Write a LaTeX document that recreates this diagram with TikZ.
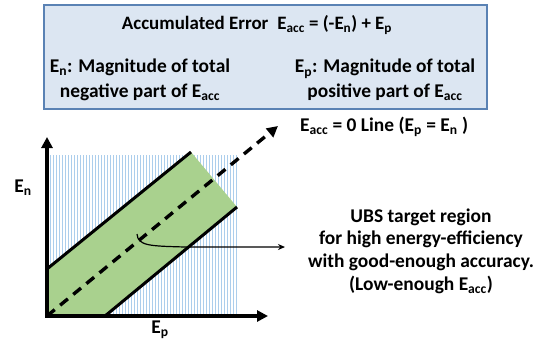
\documentclass[tikz,border=0pt]{standalone}
\usepackage{fontspec}
\setmainfont{Carlito}
\usetikzlibrary{arrows.meta}
\definecolor{boxfill}{RGB}{220,230,242}
\definecolor{boxline}{RGB}{90,130,180}
\definecolor{bandgreen}{RGB}{169,209,142}
\definecolor{hatchblue}{RGB}{172,206,236}
\newcommand{\lo}[1]{\textsubscript{#1}}
\tikzset{
  txt/.style={font=\fontsize{19.5}{22.7}\selectfont\bfseries, inner sep=0pt, align=center},
  axisline/.style={line width=3.6bp, -{Triangle[length=11bp,width=11bp]}},
  bandline/.style={line width=3bp},
  zeroline/.style={line width=3.4bp, dash pattern=on 10bp off 7bp, -{Triangle[length=11bp,width=11bp]}},
  pointer/.style={line width=1.2bp, -{Stealth[length=7bp,width=6bp]}},
}
\begin{document}
\begin{tikzpicture}[x=1bp,y=-1bp]
\useasboundingbox (0,0) rectangle (547,349);
% top box
\node[draw=boxline, fill=boxfill, line width=1.8bp, minimum width=443bp, minimum height=104bp, anchor=north west, inner sep=0pt] (box) at (43,4) {};
\node[txt, font=\fontsize{19}{22.7}\selectfont\bfseries] (title) at (257,25) {Accumulated Error\hspace{0.25em} E\lo{acc} = (-E\lo{n}) + E\lo{p}};
\node[txt] (neg) at (140,80) {E\lo{n}: Magnitude of total\\[2bp]negative part of E\lo{acc}};
\node[txt] (pos) at (385,80) {E\lo{p}: Magnitude of total\\[2bp]positive part of E\lo{acc}};
% coordinates
\coordinate (O) at (47,316);
\coordinate (Ytip) at (47,137);
\coordinate (Xtip) at (268,316);
\coordinate (U1) at (47,269);
\coordinate (U2) at (191,152);
\coordinate (L1) at (105,316);
\coordinate (L2) at (237,207);
\coordinate (Ztip) at (278,126);
\coordinate (P0) at (137,234);
\coordinate (P1) at (285,247);
% hatch
\foreach \x in {50,53,...,236} {
  \draw[hatchblue, line width=0.75bp] (\x,155) -- (\x,315);
}
% green band
\fill[bandgreen] (O) -- (U1) -- (U2) -- (L2) -- (L1) -- cycle;
\draw[bandline] (U1) -- (U2);
\draw[bandline] (L1) -- (L2);
% zero line
\draw[zeroline] (O) -- (Ztip);
% pointer
\draw[pointer] (P0) .. controls (138,246) and (150,246) .. (185,247) -- (P1);
% axes
\draw[axisline] ([yshift=-1.8bp]O) -- (Ytip);
\draw[axisline] ([xshift=-1.8bp]O) -- (Xtip);
% labels
\node[txt] (en) at (23,188) {E\lo{n}};
\node[txt] (ep) at (160,330) {E\lo{p}};
\node[txt, anchor=west] (zl) at (300,127) {E\lo{acc} = 0 Line (E\lo{p} = E\lo{n} )};
\node[txt] (ubs) at (421,251) {UBS target region\\for high energy-efficiency\\with good-enough accuracy.\\(Low-enough E\lo{acc})};
\end{tikzpicture}
\end{document}
